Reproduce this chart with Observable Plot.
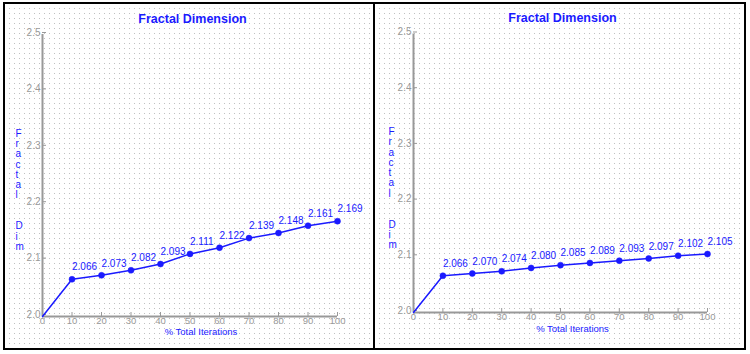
<!DOCTYPE html>
<html>
<head>
<meta charset="utf-8">
<script src="https://cdn.jsdelivr.net/npm/d3@7"></script>
<script src="https://cdn.jsdelivr.net/npm/@observablehq/plot@0.6"></script>
<style>
  body { margin: 0; background: #fff; }
  #wrap { position: relative; width: 750px; height: 354px; overflow: hidden; }
  .panel {
    position: absolute; top: 2px; height: 348px; box-sizing: border-box;
    border: 2px solid #000;
    background-color: #fff;
    background-image:
      linear-gradient(to right, #fff 4px, transparent 4px),
      linear-gradient(to bottom, #fff 4px, #c0c0c0 4px);
    background-size: 5px 5px;
  }
  .chart { position: absolute; top: 0; }
</style>
</head>
<body>
<div id="wrap">
  <div class="panel" style="left:3px;width:372px"></div>
  <div class="panel" style="left:373px;width:373px"></div>
  <div id="c1" class="chart" style="left:0px"></div>
  <div id="c2" class="chart" style="left:375px"></div>
</div>
<script>
const iterations = [0, 10, 20, 30, 40, 50, 60, 70, 80, 90, 100];
const dimLeft  = [2.000, 2.066, 2.073, 2.082, 2.093, 2.111, 2.122, 2.139, 2.148, 2.161, 2.169];
const dimRight = [2.000, 2.066, 2.070, 2.074, 2.080, 2.085, 2.089, 2.093, 2.097, 2.102, 2.105];
const xTicks = [0, 10, 20, 30, 40, 50, 60, 70, 80, 90, 100];
const yTicks = [2.0, 2.1, 2.2, 2.3, 2.4, 2.5];
const titleText = "Fractal Dimension";
const xLabel = "% Total Iterations";
const yLabel = "Fractal  Dim";

const BLUE = "#1a1aff";
const GRAY = "#999";

function chart(values, m, lab) {
  const data = iterations.map((x, i) => ({x, y: values[i]}));
  const pts = data.slice(1);
  return Plot.plot({
    width: 373, height: 354,
    marginLeft: m.l, marginRight: m.r, marginTop: m.t, marginBottom: m.b,
    style: {background: "transparent", overflow: "visible", fontFamily: "'Liberation Sans', Arial, sans-serif", fontSize: "10px"},
    x: {domain: [0, 100], axis: null},
    y: {domain: [2.0, 2.5], axis: null},
    marks: [
      Plot.ruleX([0], {stroke: GRAY, strokeWidth: 2}),
      Plot.ruleY([2.0], {x1: 0, x2: 100, stroke: GRAY, strokeWidth: 2}),
      Plot.axisY({ticks: yTicks, tickFormat: d3.format(".1f"), tickSize: -4, tickPadding: 6, stroke: GRAY, fill: GRAY, label: null, dy: -2, fontSize: 10}),
      Plot.axisX({ticks: xTicks, tickFormat: d => String(d), tickSize: -4, tickPadding: 5, stroke: GRAY, fill: GRAY, label: null, fontSize: 9.5}),
      Plot.line(data, {x: "x", y: "y", stroke: BLUE, strokeWidth: 1.5}),
      Plot.dot(pts, {x: "x", y: "y", r: 3, fill: BLUE, stroke: BLUE, strokeWidth: 0.5}),
      Plot.text(pts, {x: "x", y: "y", text: d => d.y.toFixed(3), textAnchor: "start", dy: -12, fill: BLUE, fontSize: 10}),
      Plot.text([titleText], {frameAnchor: "top", dx: lab.tdx, dy: lab.tdy, fill: BLUE, fontSize: 12.5, fontWeight: "bold"}),
      Plot.text([xLabel], {frameAnchor: "bottom", dx: lab.xdx, dy: lab.xdy, fill: BLUE, fontSize: 9.5}),
      Plot.text([yLabel.split("").join("\n")], {frameAnchor: "left", dx: lab.ydx, dy: lab.ydy, fill: BLUE, fontSize: 10, lineHeight: 1.03, lineAnchor: "middle"})
    ]
  });
}

document.getElementById("c1").appendChild(
  chart(dimLeft, {l: 42, r: 36, t: 34, b: 38}, {tdx: 2.5, tdy: -20, xdx: 11, xdy: 18.5, ydx: -27, ydy: 14.5})
);
document.getElementById("c2").appendChild(
  chart(dimRight, {l: 38, r: 41, t: 33.5, b: 42}, {tdx: 2, tdy: -20.5, xdx: 12, xdy: 19, ydx: -25, ydy: 15})
);
</script>
</body>
</html>
